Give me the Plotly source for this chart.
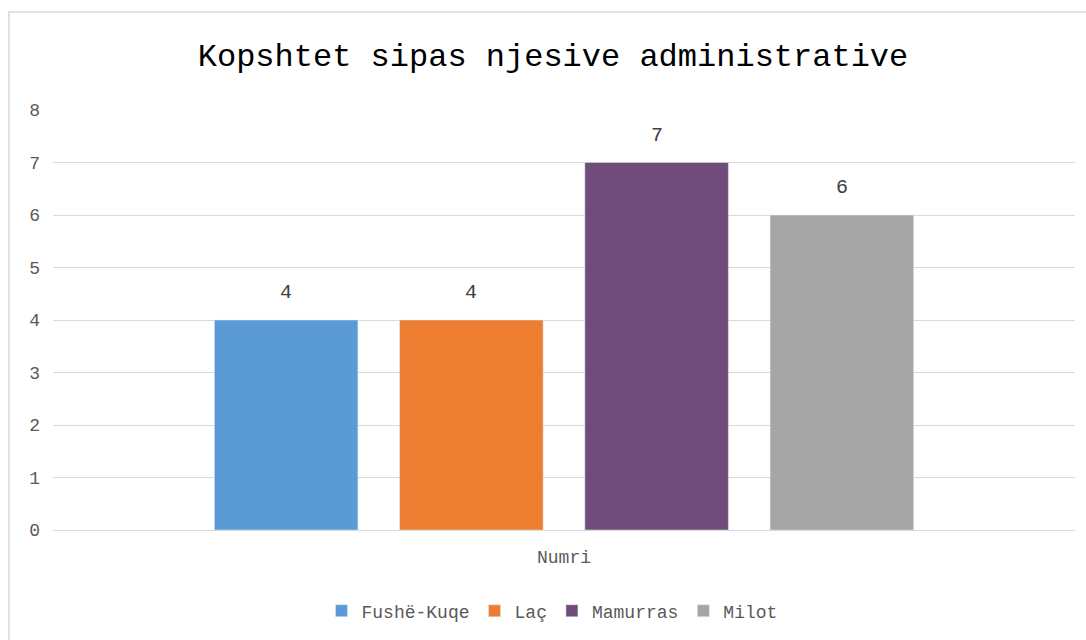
import plotly.graph_objects as go

categories = ["Numri"]
series_names = ["Fushë-Kuqe", "Laç", "Mamurras", "Milot"]
series_values = [[4], [4], [7], [6]]
colors = ["#5B9BD5", "#ED7D31", "#704C7A", "#A5A5A5"]
y_ticks = [0, 1, 2, 3, 4, 5, 6, 7, 8]

FONT = "Liberation Mono, DejaVu Sans Mono, monospace"
BARGAP = 0.275
GROUPGAP = 0.225

fig = go.Figure()
n = len(series_names)
for i, (name, vals, col) in enumerate(zip(series_names, series_values, colors)):
    fig.add_trace(go.Bar(x=categories, y=vals, name=name, marker_color=col))
    slot = (1 - BARGAP) / n
    offset = -(1 - BARGAP) / 2 + slot * (i + 0.5)
    for ci, v in enumerate(vals):
        fig.add_annotation(x=ci + offset, y=v, xref="x", yref="y", text=str(v),
                           showarrow=False, yanchor="bottom", yshift=14,
                           font=dict(family=FONT, size=20, color="#404040"))

fig.update_layout(
    width=1086, height=640,
    paper_bgcolor="white", plot_bgcolor="white",
    margin=dict(l=53, r=11, t=110, b=110),
    barmode="group", bargap=BARGAP, bargroupgap=GROUPGAP,
    title=dict(text="Kopshtet sipas njesive administrative",
               font=dict(family=FONT, size=32, color="#000000"),
               x=553 / 1086, xanchor="center", y=1 - 55 / 640, yanchor="middle",
               yref="container"),
    font=dict(family=FONT, size=18, color="#595959"),
    legend=dict(orientation="h", x=(552 - 53) / 1022, xanchor="center", y=-0.193,
                yanchor="middle",
                font=dict(family=FONT, size=18, color="#595959"),
                itemwidth=30, tracegroupgap=0),
    xaxis=dict(showgrid=False, showline=False, ticks="", ticklabelstandoff=14,
               tickfont=dict(family=FONT, size=18, color="#595959")),
    yaxis=dict(range=[0, 8], tickvals=y_ticks, showgrid=True, gridcolor="#D9D9D9",
               gridwidth=1, zeroline=True, zerolinecolor="#D9D9D9", zerolinewidth=1,
               showline=False, ticks="", ticklabelstandoff=12,
               tickfont=dict(family=FONT, size=18, color="#595959")),
    shapes=[dict(type="rect", xref="paper", yref="paper",
                 x0=(9 - 53) / 1022, x1=(1100 - 53) / 1022,
                 y0=(530 - 700) / 420, y1=(530 - 12) / 420,
                 line=dict(color="#D9D9D9", width=1.5), fillcolor="rgba(0,0,0,0)",
                 layer="below")],
)

fig.write_html("out.html", config={"displayModeBar": False},
               post_script="document.body.style.margin='0';")
